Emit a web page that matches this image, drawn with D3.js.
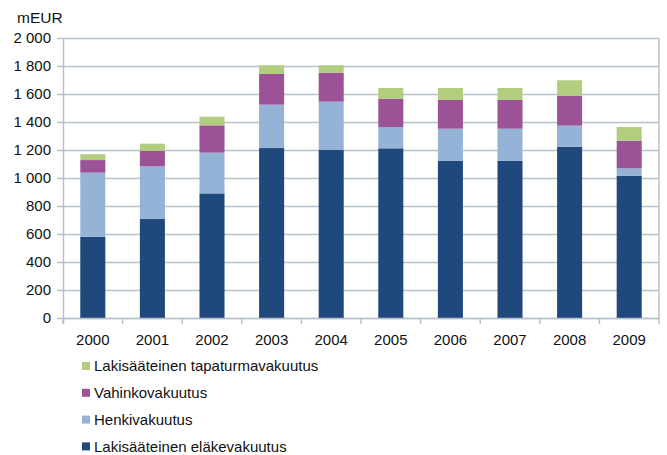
<!DOCTYPE html>
<html>
<head>
<meta charset="utf-8">
<script src="https://cdn.jsdelivr.net/npm/d3@7"></script>
<style>
  body { margin: 0; background: #fff; }
  svg text { font-family: "Liberation Sans", Arial, sans-serif; fill: #111; }
</style>
</head>
<body>
<svg id="chart" width="667" height="455"></svg>
<script>
const years = ["2000", "2001", "2002", "2003", "2004", "2005", "2006", "2007", "2008", "2009"];
const elake = [580, 707, 890, 1214, 1200, 1212, 1124, 1124, 1224, 1017];   // Lakisääteinen eläkevakuutus
const henki = [458, 376, 291, 310, 345, 152, 228, 228, 150, 52];            // Henkivakuutus
const vahinko = [90, 110, 195, 219, 207, 203, 205, 205, 214, 198];         // Vahinkovakuutus
const tapaturma = [42, 52, 62, 62, 53, 76, 86, 86, 110, 97];               // Lakisääteinen tapaturmavakuutus
const yTicks = [0, 200, 400, 600, 800, 1000, 1200, 1400, 1600, 1800, 2000];

const keys = ["elake", "henki", "vahinko", "tapaturma"];
const names = {
    elake: "Lakisääteinen eläkevakuutus",
    henki: "Henkivakuutus",
    vahinko: "Vahinkovakuutus",
    tapaturma: "Lakisääteinen tapaturmavakuutus"
};
const colors = {elake: "#1f497d", henki: "#95b3d7", vahinko: "#9b5296", tapaturma: "#b1cd7e"};

const data = years.map((y, i) => ({
    year: y, elake: elake[i], henki: henki[i], vahinko: vahinko[i], tapaturma: tapaturma[i]
}));

let margin = {top: 38, left: 63, right: 8},
    width = 659 - margin.left,
    height = 280;

let svg = d3.select("#chart");
let g = svg.append("g").attr("transform", "translate(" + margin.left + "," + margin.top + ")");

let x = d3.scaleBand().domain(years).range([0, width]).paddingInner(0.58).paddingOuter(0.29),
    y = d3.scaleLinear().domain([0, 2000]).range([height, 0]);

// gridlines (extend left as tick marks)
g.selectAll(".grid")
    .data(yTicks)
    .enter().append("line")
    .attr("x1", -6).attr("x2", width)
    .attr("y1", d => y(d) + 0.5).attr("y2", d => y(d) + 0.5)
    .attr("stroke", "#b7c2cd").attr("stroke-width", 1.5);

// right border
g.append("line")
    .attr("x1", width).attr("x2", width)
    .attr("y1", 0).attr("y2", height)
    .attr("stroke", "#b7c2cd").attr("stroke-width", 1.5);

let stack = d3.stack().keys(keys)(data);

g.selectAll(".layer")
    .data(stack)
    .enter().append("g")
    .attr("fill", d => colors[d.key])
    .selectAll("rect")
    .data(d => d)
    .enter().append("rect")
    .attr("x", d => x(d.data.year))
    .attr("width", x.bandwidth())
    .attr("y", d => y(d[1]))
    .attr("height", d => y(d[0]) - y(d[1]));

// y axis line
g.append("line")
    .attr("x1", 0.5).attr("x2", 0.5)
    .attr("y1", 0).attr("y2", height + 6)
    .attr("stroke", "#b7c2cd").attr("stroke-width", 1.5);

// x axis line + ticks at band boundaries
g.append("line")
    .attr("x1", 0).attr("x2", width)
    .attr("y1", height + 0.5).attr("y2", height + 0.5)
    .attr("stroke", "#b7c2cd").attr("stroke-width", 1.5);

let step = x.step();
g.selectAll(".xtick")
    .data(d3.range(years.length + 1))
    .enter().append("line")
    .attr("x1", i => i * step).attr("x2", i => i * step)
    .attr("y1", height).attr("y2", height + 6)
    .attr("stroke", "#b7c2cd").attr("stroke-width", 1.5);

// y labels
let fmt = d => d3.format(",")(d).replace(",", " ");
g.selectAll(".ylab")
    .data(yTicks)
    .enter().append("text")
    .attr("x", -12)
    .attr("y", d => y(d))
    .attr("dy", "0.35em")
    .attr("text-anchor", "end")
    .attr("font-size", 15)
    .text(fmt);

// x labels
g.selectAll(".xlab")
    .data(years)
    .enter().append("text")
    .attr("x", d => x(d) + x.bandwidth() / 2)
    .attr("y", height + 22)
    .attr("dy", "0.35em")
    .attr("text-anchor", "middle")
    .attr("font-size", 15)
    .text(d => d);

svg.append("text")
    .attr("x", 17).attr("y", 18)
    .attr("dy", "0.35em")
    .attr("font-size", 15.5)
    .text("mEUR");

// legend
let legend = svg.selectAll(".legend")
    .data(keys.slice().reverse())
    .enter().append("g")
    .attr("transform", (d, i) => "translate(82," + (366 + i * 26.8) + ")");

legend.append("rect")
    .attr("x", 0).attr("y", -4)
    .attr("width", 8).attr("height", 8)
    .attr("fill", d => colors[d]);

legend.append("text")
    .attr("x", 12)
    .attr("dy", "0.35em")
    .attr("font-size", 15)
    .text(d => names[d]);
</script>
</body>
</html>
